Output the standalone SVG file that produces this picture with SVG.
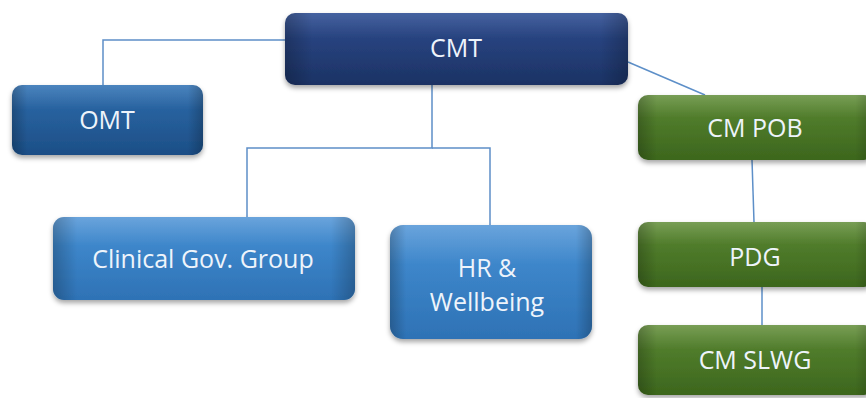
<svg xmlns="http://www.w3.org/2000/svg" width="866" height="398" viewBox="0 0 866 398">
  <defs>
    <linearGradient id="gNavy" x1="0" y1="0" x2="0" y2="1">
      <stop offset="0" stop-color="#4562a0"/>
      <stop offset="0.35" stop-color="#28437f"/>
      <stop offset="1" stop-color="#1b3264"/>
    </linearGradient>
    <linearGradient id="gMid" x1="0" y1="0" x2="0" y2="1">
      <stop offset="0" stop-color="#4b84be"/>
      <stop offset="0.35" stop-color="#28629f"/>
      <stop offset="1" stop-color="#1c4e86"/>
    </linearGradient>
    <linearGradient id="gLight" x1="0" y1="0" x2="0" y2="1">
      <stop offset="0" stop-color="#6aa4dc"/>
      <stop offset="0.35" stop-color="#3d86ca"/>
      <stop offset="1" stop-color="#2e72b5"/>
    </linearGradient>
    <linearGradient id="gGreen" x1="0" y1="0" x2="0" y2="1">
      <stop offset="0" stop-color="#789e55"/>
      <stop offset="0.35" stop-color="#507c2b"/>
      <stop offset="1" stop-color="#3c661d"/>
    </linearGradient>
    <!-- darkened side bevels -->
    <linearGradient id="gBevel" x1="0" y1="0" x2="1" y2="0">
      <stop offset="0" stop-color="#000" stop-opacity="0.22"/>
      <stop offset="0.08" stop-color="#000" stop-opacity="0"/>
      <stop offset="0.92" stop-color="#000" stop-opacity="0"/>
      <stop offset="1" stop-color="#000" stop-opacity="0.22"/>
    </linearGradient>
    <filter id="shadow" x="-10%" y="-10%" width="120%" height="140%">
      <feDropShadow dx="0" dy="3" stdDeviation="2.5" flood-color="#000" flood-opacity="0.35"/>
    </filter>
  </defs>
  <style>
    .box { filter: url(#shadow); }
    .navy { fill: url(#gNavy); }
    .mid { fill: url(#gMid); }
    .light { fill: url(#gLight); }
    .green { fill: url(#gGreen); }
    .bevel { fill: url(#gBevel); }
    .label { font-family: "Open Sans", "Liberation Sans", sans-serif; font-size: 25px; fill: #eef4fb; text-anchor: middle; }
    .link { fill: none; stroke: #5d8fc8; stroke-width: 1.5; }
  </style>

  <!-- connectors -->
  <g id="connectors">
    <polyline class="link" points="103,85 103,40 285,40"/>
    <line class="link" x1="628" y1="62" x2="705" y2="95"/>
    <polyline class="link" points="432,85 432,148 247,148 247,217"/>
    <polyline class="link" points="432,148 490,148 490,225"/>
    <line class="link" x1="752" y1="160" x2="754" y2="222"/>
    <line class="link" x1="762" y1="287" x2="762" y2="325"/>
  </g>

  <g id="cmt">
    <rect class="box navy" x="285" y="13" width="343" height="72" rx="10"/>
    <rect class="bevel" x="285" y="13" width="343" height="72" rx="10"/>
    <text class="label" x="456" y="57">CMT</text>
  </g>

  <g id="omt">
    <rect class="box mid" x="12" y="85" width="191" height="70" rx="10"/>
    <rect class="bevel" x="12" y="85" width="191" height="70" rx="10"/>
    <text class="label" x="107" y="129">OMT</text>
  </g>

  <g id="clinical-gov">
    <rect class="box light" x="53" y="217" width="302" height="83" rx="11"/>
    <rect class="bevel" x="53" y="217" width="302" height="83" rx="11"/>
    <text class="label" x="203" y="268">Clinical Gov. Group</text>
  </g>

  <g id="hr-wellbeing">
    <rect class="box light" x="390" y="225" width="202" height="114" rx="13"/>
    <rect class="bevel" x="390" y="225" width="202" height="114" rx="13"/>
    <text class="label" x="487" y="277">HR &amp;</text>
    <text class="label" x="487" y="311">Wellbeing</text>
  </g>

  <g id="cm-pob">
    <rect class="box green" x="638" y="95" width="236" height="65" rx="10"/>
    <rect class="bevel" x="638" y="95" width="236" height="65" rx="10"/>
    <text class="label" x="755" y="137">CM POB</text>
  </g>

  <g id="pdg">
    <rect class="box green" x="638" y="222" width="236" height="65" rx="10"/>
    <rect class="bevel" x="638" y="222" width="236" height="65" rx="10"/>
    <text class="label" x="755" y="266">PDG</text>
  </g>

  <g id="cm-slwg">
    <rect class="box green" x="638" y="325" width="236" height="70" rx="10"/>
    <rect class="bevel" x="638" y="325" width="236" height="70" rx="10"/>
    <text class="label" x="755" y="369">CM SLWG</text>
  </g>
</svg>
